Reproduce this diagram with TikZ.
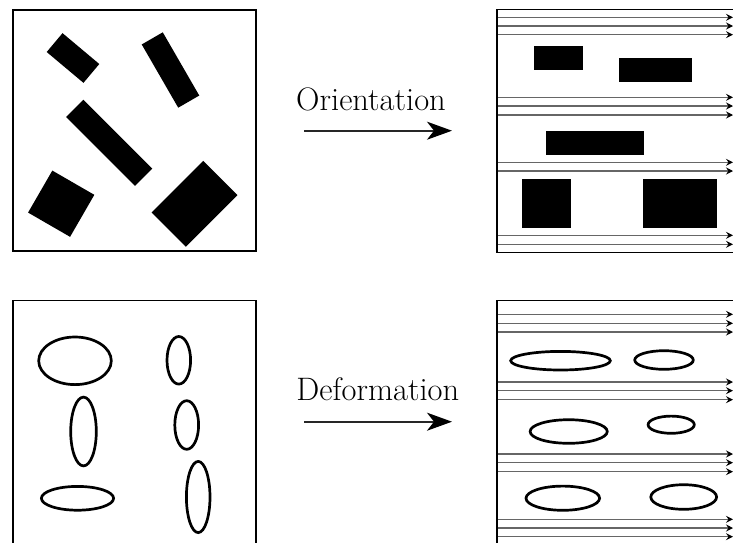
\documentclass[tikz,border=0pt]{standalone}
\usetikzlibrary{arrows.meta}
\begin{document}
\begin{tikzpicture}[x=1pt,y=-1pt,
  frame/.style={draw=black,line width=1.4pt},
  blk/.style={fill=black,draw=none,inner sep=0pt,outer sep=0pt},
  oval/.style={draw=black,line width=2.7pt},
  flow/.style={draw=black!60,line width=1.1pt,-{Stealth[length=7pt,width=7pt,inset=2.5pt,fill=black,color=black]}},
  bigarrow/.style={draw=black!85,line width=1.7pt,-{Stealth[length=25pt,width=18pt,inset=7pt,color=black]}},
  lbl/.style={anchor=base,inner sep=0pt,font=\fontsize{32.5}{39}\selectfont}]
\useasboundingbox (0,0) rectangle (733,542);
\clip (0,0) rectangle (733,542);

% ---------- top left: oriented rectangles ----------
\draw[frame] (13,10) rectangle (256,251);
\node[blk,minimum width=48pt,minimum height=24.6pt,rotate=-40] (ra) at (73,58) {};
\node[blk,minimum width=73pt,minimum height=24.3pt,rotate=-60] (rb) at (170.5,70) {};
\node[blk,minimum width=97.5pt,minimum height=24.5pt,rotate=-45] (rc) at (109.2,142.8) {};
\node[blk,minimum width=48.5pt,minimum height=48.5pt,rotate=-30] (rd) at (61.2,203.7) {};
\node[blk,minimum width=73pt,minimum height=48.5pt,rotate=45] (re) at (194.5,203.8) {};

% ---------- top arrow ----------
\node[lbl] (t1) at (371,110) {Orientation};
\coordinate (a1s) at (304,130.7);
\coordinate (a1e) at (452,130.7);
\draw[bigarrow] (a1s) -- (a1e);

% ---------- top right: aligned rectangles ----------
\foreach \yy in {17.3,26,34.7,97.3,106,115,162.3,171,235.3,244.3}
  \draw[flow] (497,\yy) -- (733,\yy);
\draw[frame] (740,9.5) -- (497,9.5) -- (497,252.5) -- (740,252.5);
\fill[black] (534,45.7) rectangle (583.3,70.3);
\fill[black] (619,57.7) rectangle (692,82.3);
\fill[black] (546.3,130.7) rectangle (644,155.3);
\fill[black] (522,179.3) rectangle (571,228);
\fill[black] (643.3,179.3) rectangle (716.7,228);

% ---------- bottom left: ellipses ----------
\draw[frame] (13,543) -- (13,300.5) -- (256,300.5) -- (256,543);
\draw[oval] (75,360.8) ellipse [x radius=36.3, y radius=23.8];
\draw[oval] (178.8,360.3) ellipse [x radius=11.8, y radius=23.8];
\draw[oval] (83.5,431.5) ellipse [x radius=12.8, y radius=34.4];
\draw[oval] (186.7,425) ellipse [x radius=11.9, y radius=24.3];
\draw[oval] (77.5,498.3) ellipse [x radius=36.1, y radius=11.9];
\draw[oval] (198.2,497) ellipse [x radius=11.8, y radius=35.6];

% ---------- bottom arrow ----------
\node[lbl] (t2) at (377.8,400) {Deformation};
\coordinate (a2s) at (304,421.7);
\coordinate (a2e) at (452,421.7);
\draw[bigarrow] (a2s) -- (a2e);

% ---------- bottom right: deformed ellipses ----------
\foreach \yy in {314.3,323.3,332,382,390.7,399.7,454,462.7,471.7,519.3,528,536.7}
  \draw[flow] (497,\yy) -- (733,\yy);
\draw[frame] (740,300.7) -- (497,300.7) -- (497,543);
\draw[oval] (560.5,360.7) ellipse [x radius=49.8, y radius=9.3];
\draw[oval] (664,360) ellipse [x radius=29.3, y radius=9.3];
\draw[oval] (568.7,431.5) ellipse [x radius=38.6, y radius=11.8];
\draw[oval] (671.2,424.7) ellipse [x radius=23.1, y radius=8.6];
\draw[oval] (562.8,498.2) ellipse [x radius=36.8, y radius=12.1];
\draw[oval] (683.7,497) ellipse [x radius=32.9, y radius=12.3];
\end{tikzpicture}
\end{document}
